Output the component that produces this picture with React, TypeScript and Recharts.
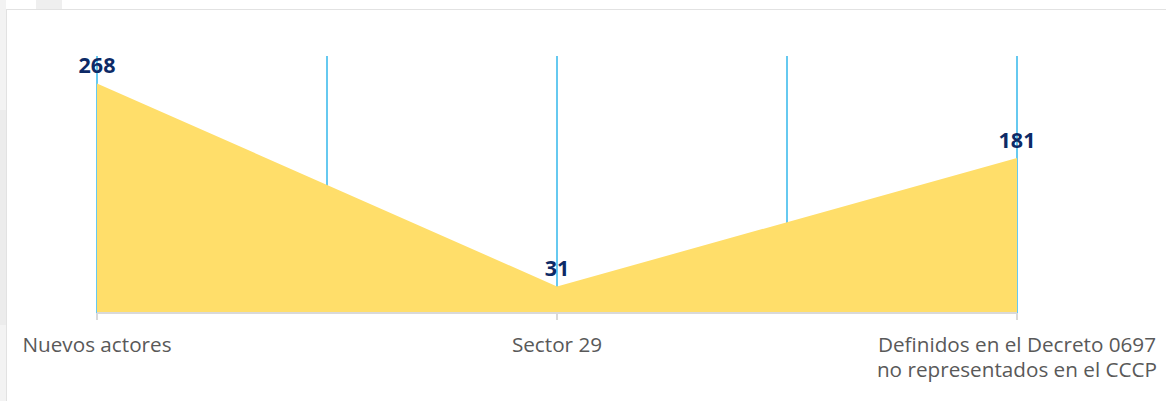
import React from 'react';
import { AreaChart, Area, XAxis, YAxis, CartesianGrid, LabelList } from 'recharts';

const categories: string[] = [
  'Nuevos actores',
  'Sector 29',
  'Definidos en el Decreto 0697\nno representados en el CCCP',
];
const values: number[] = [268, 31, 181];
const gridTicks: number[] = [0, 0.5, 1, 1.5, 2];
const yDomain: [number, number] = [0, 300];

const data = categories.map((name, i) => ({ idx: i, name, value: values[i] }));

const FONT = '"Open Sans", sans-serif';

const Tick = (props: any) => {
  const { x, y, payload } = props;
  const v = payload?.value;
  if (!Number.isInteger(v) || !categories[v]) return null;
  const lines = categories[v].split('\n');
  return (
    <g>
      <line x1={x} y1={y} x2={x} y2={y + 7} stroke="#d9d9d9" strokeWidth={2} />
      <text x={x} y={y + 39} textAnchor="middle" fill="#595959" fontSize={20.7} fontFamily={FONT}>
        {lines.map((l, i) => (
          <tspan key={i} x={x} dy={i === 0 ? 0 : 25}>
            {l}
          </tspan>
        ))}
      </text>
    </g>
  );
};

export default function App() {
  return (
    <div
      style={{
        position: 'absolute',
        left: 0,
        top: 0,
        width: 1166,
        height: 401,
        background: '#ffffff',
        overflow: 'hidden',
      }}
    >
      <div style={{ position: 'absolute', left: 0, top: 0, width: 6, height: 401, background: '#f3f3f3' }} />
      <div style={{ position: 'absolute', left: 0, top: 110, width: 6, height: 215, background: '#ececec' }} />
      <div style={{ position: 'absolute', left: 36, top: 0, width: 26, height: 9, background: '#efefef' }} />
      <div
        style={{
          position: 'absolute',
          left: 6,
          top: 9,
          width: 1160,
          height: 392,
          borderTop: '1.5px solid #e2e2e2',
          borderLeft: '1.5px solid #e2e2e2',
          boxSizing: 'border-box',
        }}
      />
      <div style={{ position: 'absolute', left: 0, top: 0 }}>
        <AreaChart
          width={1166}
          height={401}
          data={data}
          margin={{ top: 56, right: 149, bottom: 28, left: 97 }}
        >
          <CartesianGrid horizontal={false} vertical stroke="#14ace8" strokeWidth={1.3} />
          <XAxis
            type="number"
            dataKey="idx"
            domain={[0, 2]}
            ticks={gridTicks}
            interval={0}
            allowDecimals
            tick={<Tick />}
            tickLine={false}
            tickSize={0}
            tickMargin={0}
            height={60}
            axisLine={{ stroke: '#d9d9d9', strokeWidth: 2 }}
          />
          <YAxis hide width={0} domain={yDomain} />
          <Area
            type="linear"
            dataKey="value"
            fill="#FFDE6A"
            fillOpacity={1}
            stroke="none"
            isAnimationActive={false}
            dot={false}
            activeDot={false}
          >
            <LabelList
              dataKey="value"
              position="top"
              offset={10}
              fill="#0d2a66"
              fontSize={21.5}
              fontWeight="bold"
              fontFamily={FONT}
            />
          </Area>
        </AreaChart>
      </div>
    </div>
  );
}
